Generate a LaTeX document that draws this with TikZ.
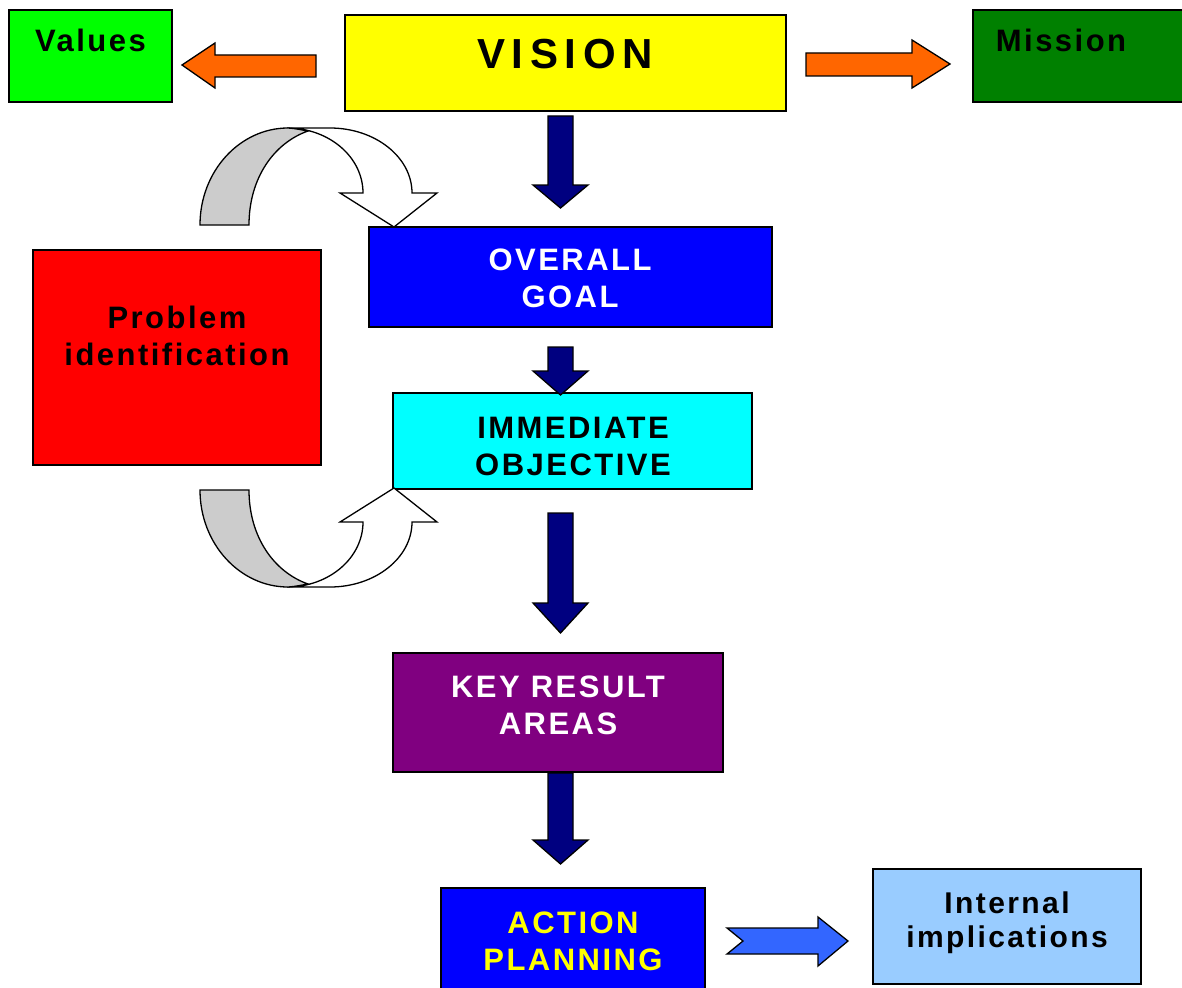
\documentclass[tikz,border=0pt]{standalone}
\usepackage{fontspec}
\setmainfont{Liberation Sans}[LetterSpace=8]

\definecolor{valgreen}{HTML}{00FF00}
\definecolor{misgreen}{HTML}{008000}
\definecolor{visyellow}{HTML}{FFFF00}
\definecolor{sideorange}{HTML}{FF6600}
\definecolor{navyarr}{HTML}{000080}
\definecolor{goalblue}{HTML}{0000FF}
\definecolor{probred}{HTML}{FF0000}
\definecolor{objcyan}{HTML}{00FFFF}
\definecolor{krapurple}{HTML}{800080}
\definecolor{implblue}{HTML}{99CCFF}
\definecolor{planarr}{HTML}{3366FF}
\definecolor{loopgray}{HTML}{CCCCCC}

\tikzset{
  box/.style={draw=black, line width=1.5pt, inner sep=0pt},
  lbl/.style={font=\bfseries\fontsize{31}{37}\selectfont, align=center, anchor=base, inner sep=0pt},
  blockarr/.style={draw=black, line width=1.3pt, line join=miter},
}

% navy block arrow: top, start of head, tip
\newcommand{\navyarrow}[3]{%
  \filldraw[blockarr, fill=navyarr] (548,#1) -- (573,#1) -- (573,#2) -- (588,#2) -- (560.5,#3) -- (533,#2) -- (548,#2) -- cycle;}

% curved loop arrow beside the problem box
\newcommand{\loopback}{%
  \filldraw[blockarr, fill=white] (287,128) -- (330,128) .. controls (375,128) and (412,157) .. (412,193) -- (437,193) -- (394,227) -- (340,193) -- (363,193) .. controls (363,157) and (329,128) .. (287,128) -- cycle;
  \filldraw[blockarr, fill=loopgray] (200,225) .. controls (200,171) and (240,128) .. (288,128) .. controls (296,128.5) and (302,130) .. (308,131) .. controls (274,143) and (249,178) .. (249,225) -- cycle;}

\begin{document}
\begin{tikzpicture}[x=1pt, y=-1pt]
\useasboundingbox[fill=white] (0,0) rectangle (1182,987);

% boxes
\node[box, fill=valgreen, minimum width=163, minimum height=92] (values) at (90.5,56) {};
\node[box, fill=visyellow, minimum width=441, minimum height=96] (vision) at (565.5,63) {};
\node[box, fill=misgreen, minimum width=227, minimum height=92] (mission) at (1086.5,56) {};
\node[box, fill=goalblue, minimum width=403, minimum height=100] (goal) at (570.5,277) {};
\node[box, fill=probred, minimum width=288, minimum height=215] (problem) at (177,357.5) {};
\node[box, fill=objcyan, minimum width=359, minimum height=96] (objective) at (572.5,441) {};
\node[box, fill=krapurple, minimum width=330, minimum height=119] (kra) at (558,712.5) {};
\node[box, fill=goalblue, minimum width=264, minimum height=112] (planning) at (573,944) {};
\node[box, fill=implblue, minimum width=268, minimum height=115] (implications) at (1007,926.5) {};

% side arrows
\filldraw[blockarr, fill=sideorange] (316,55) -- (215,55) -- (215,43) -- (182,65) -- (215,88) -- (215,77) -- (316,77) -- cycle;
\filldraw[blockarr, fill=sideorange] (806,53) -- (912,53) -- (912,40) -- (950,64) -- (912,88) -- (912,76) -- (806,76) -- cycle;
\filldraw[blockarr, fill=planarr] (727,928) -- (818,928) -- (818,917) -- (848,941) -- (818,966) -- (818,954) -- (727,954) -- (743,941) -- cycle;

% down arrows
\navyarrow{116}{185}{208}
\navyarrow{347}{371}{395}
\navyarrow{513}{603}{633}
\navyarrow{773}{840}{864}

% loops
\loopback
\begin{scope}[shift={(0,715)}, yscale=-1]
\loopback
\end{scope}

% texts (base = last line)
\node[lbl] (valuesT) at (90.5,52) {Values};
\node[lbl, font=\bfseries\fontsize{42}{50}\selectfont\addfontfeature{LetterSpace=16}] (visionT) at (565,69) {VISION};
\node[lbl] (missionT) at (1061,52) {Mission};
\node[lbl, text=white] (goalT) at (570,307) {OVERALL\\GOAL};
\node[lbl] (problemT) at (177,365) {Problem\\identification};
\node[lbl] (objectiveT) at (573,475) {IMMEDIATE\\OBJECTIVE};
\node[lbl, text=white] (kraT) at (558,734) {KEY RESULT\\AREAS};
\node[lbl, text=visyellow] (planningT) at (573,970) {ACTION\\PLANNING};
\node[lbl, font=\bfseries\fontsize{30}{34}\selectfont] (implicationsT) at (1007,947) {Internal\\implications};
\end{tikzpicture}
\end{document}
